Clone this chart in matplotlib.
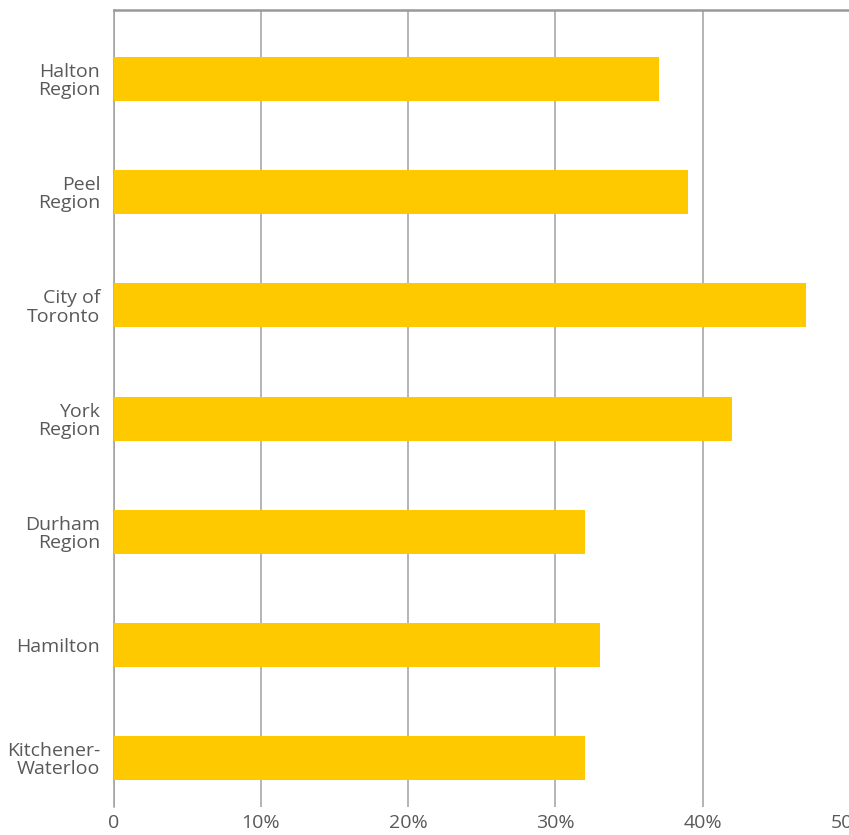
import matplotlib
matplotlib.use("Agg")
import matplotlib.pyplot as plt
from matplotlib.ticker import FixedLocator

categories = ["Halton\nRegion", "Peel\nRegion", "City of\nToronto", "York\nRegion",
              "Durham\nRegion", "Hamilton", "Kitchener-\nWaterloo"]
values = [37, 39, 47, 42, 32, 33, 32]
xticks = [0, 10, 20, 30, 40, 50]
xticklabels = ["0", "10%", "20%", "30%", "40%", "50%"]

plt.rcParams['font.family'] = ['Open Sans', 'DejaVu Sans']

fig = plt.figure(figsize=(8.49, 8.35), dpi=100)
ax = fig.add_axes([113.5/849, 1-807/835, (850-113.5)/849, (807-10)/835])

ypos = list(range(len(categories)))
ax.barh(ypos, values, height=0.389, color="#FFC900", zorder=3)
ax.set_ylim(6.433, -0.61)
ax.set_xlim(0, 50)

ax.xaxis.set_major_locator(FixedLocator(xticks))
ax.set_xticklabels(xticklabels)
ax.set_yticks(ypos)
ax.set_yticklabels(categories, linespacing=1.02)

ax.grid(axis="x", color="#a0a0a0", linewidth=1.1, zorder=0)
ax.grid(axis="y", visible=False)
for s in ["right", "bottom"]:
    ax.spines[s].set_visible(False)
ax.spines["left"].set_color("#a0a0a0")
ax.spines["left"].set_linewidth(1.1)
ax.spines["top"].set_color("#999999")
ax.spines["top"].set_linewidth(1.8)

ax.tick_params(axis="both", length=0, labelsize=14, colors="#595959")
ax.tick_params(axis="y", pad=9.5)
ax.tick_params(axis="x", pad=5)
for lbl in ax.get_yticklabels():
    lbl.set_horizontalalignment("right")

fig.savefig("out.png", dpi=100)
